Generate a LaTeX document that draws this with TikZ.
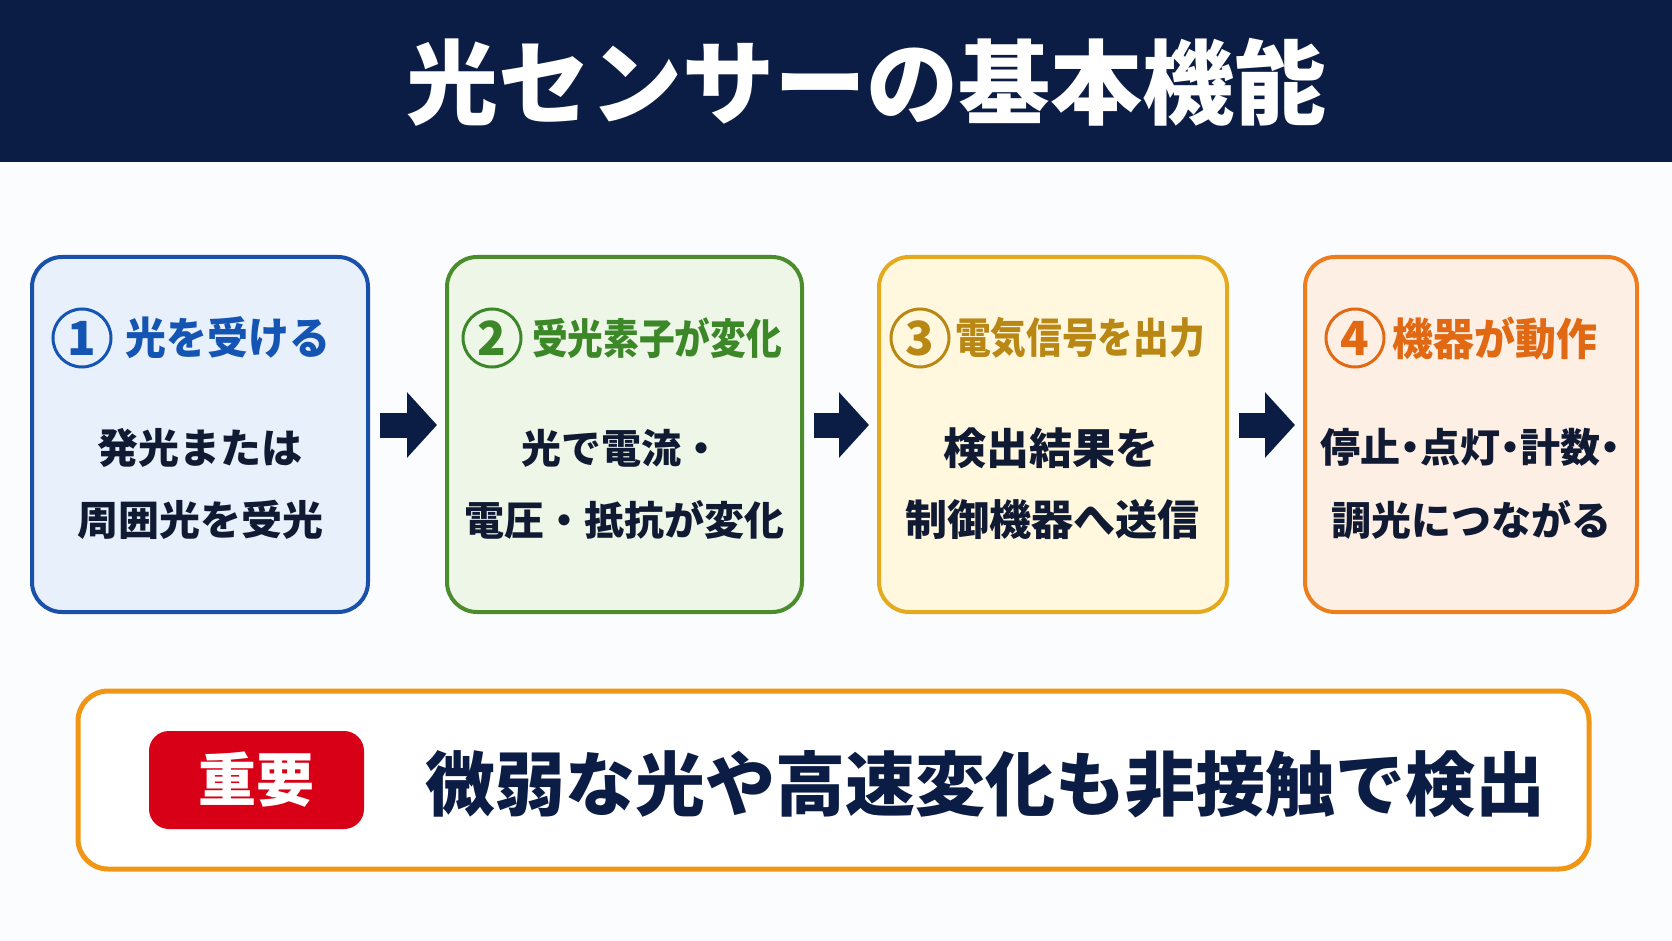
\documentclass[tikz,border=0pt]{standalone}
\usepackage{fontspec}
\usetikzlibrary{arrows.meta}
\newfontfamily\jp{Noto Sans CJK JP Black}
\newfontfamily\jpc{Noto Sans CJK JP Black}[FakeStretch=0.85]
\newfontfamily\jpn{Noto Sans CJK JP Black}[FakeStretch=0.93]
\newfontfamily\jpp{Noto Sans CJK JP Black}[RawFeature=+palt]
\definecolor{pagebg}{RGB}{251,252,254}
\definecolor{navy}{RGB}{12,29,69}
\definecolor{bodyc}{RGB}{17,26,51}
\definecolor{c1b}{RGB}{25,80,170}
\definecolor{c1f}{RGB}{232,240,251}
\definecolor{c1h}{RGB}{20,85,180}
\definecolor{c2b}{RGB}{75,140,45}
\definecolor{c2f}{RGB}{238,246,232}
\definecolor{c2h}{RGB}{60,135,40}
\definecolor{c3b}{RGB}{228,170,30}
\definecolor{c3f}{RGB}{255,247,222}
\definecolor{c3h}{RGB}{185,135,20}
\definecolor{c4b}{RGB}{238,125,30}
\definecolor{c4f}{RGB}{253,239,228}
\definecolor{c4h}{RGB}{225,105,20}
\definecolor{botb}{RGB}{240,150,20}
\definecolor{badgered}{RGB}{215,0,22}
\tikzset{
  stepbox/.style={line width=4pt, rounded corners=30pt, minimum height=355pt, inner sep=0pt},
  numc/.style={circle, line width=3pt, minimum size=58pt, inner sep=0pt, font=\jp\fontsize{47}{47}\selectfont},
  headw/.style={inner sep=0pt, font=\jpn\fontsize{44}{48}\selectfont},
  headn/.style={inner sep=0pt, font=\jpc\fontsize{42}{48}\selectfont},
  bodyt/.style={inner sep=0pt, text=bodyc, font=\jp\fontsize{41}{48}\selectfont},
  flow/.style={line width=25pt, draw=navy, -{Triangle[length=30pt,width=64pt]}, shorten <=10pt, shorten >=8pt},
}
\begin{document}
\begin{tikzpicture}[x=1pt,y=-1pt]
\fill[pagebg] (0,0) rectangle (1672,941);
\useasboundingbox (0,0) rectangle (1672,941);
\fill[navy] (0,0) rectangle (1672,162);
\node[inner sep=0pt, text=white, font=\jp\fontsize{92}{96}\selectfont] (title) at (866,82) {光センサーの基本機能};

% boxes
\node[stepbox, draw=c1b, fill=c1f, minimum width=336pt] (b1) at (200,434.5) {};
\node[stepbox, draw=c2b, fill=c2f, minimum width=355pt] (b2) at (624.5,434.5) {};
\node[stepbox, draw=c3b, fill=c3f, minimum width=348pt] (b3) at (1053,434.5) {};
\node[stepbox, draw=c4b, fill=c4f, minimum width=332pt] (b4) at (1471,434.5) {};

% headings
\node[numc, draw=c1h, text=c1h] (n1) at (82,338) {1};
\node[headw, text=c1h] (h1) at (228,338) {光を受ける};
\node[numc, draw=c2h, text=c2h] (n2) at (492,338) {2};
\node[headn, text=c2h] (h2) at (657,338) {受光素子が変化};
\node[numc, draw=c3h, text=c3h] (n3) at (920,338) {3};
\node[headn, text=c3h] (h3) at (1080,338) {電気信号を出力};
\node[numc, draw=c4h, text=c4h] (n4) at (1355,338) {4};
\node[headw, text=c4h] (h4) at (1495,338) {機器が動作};

% body text
\node[bodyt] (t11) at (200,448) {発光または};
\node[bodyt] (t12) at (200,520) {周囲光を受光};
\node[bodyt, font=\jp\fontsize{40}{48}\selectfont] (t21) at (621,448) {光で電流・};
\node[bodyt, font=\jp\fontsize{40}{48}\selectfont] (t22) at (624.5,520) {電圧・抵抗が変化};
\node[bodyt, font=\jp\fontsize{43}{48}\selectfont] (t31) at (1051,448) {検出結果を};
\node[bodyt, font=\jp\fontsize{42}{48}\selectfont] (t32) at (1052,520) {制御機器へ送信};
\node[bodyt, font=\jpp\fontsize{40}{48}\selectfont] (t41) at (1470,447) {停止・点灯・計数・};
\node[bodyt, font=\jp\fontsize{40}{48}\selectfont] (t42) at (1471,520) {調光につながる};

% arrows
\draw[flow] ([yshift=9.5pt]b1.east) -- ([yshift=9.5pt]b2.west);
\draw[flow] ([yshift=9.5pt]b2.east) -- ([yshift=9.5pt]b3.west);
\draw[flow] ([yshift=9.5pt]b3.east) -- ([yshift=9.5pt]b4.west);

% bottom box
\node[draw=botb, line width=5pt, rounded corners=30pt, fill=white, minimum width=1511pt, minimum height=178pt, inner sep=0pt] (bot) at (833.5,780) {};
\node[fill=badgered, rounded corners=20pt, minimum width=215pt, minimum height=98pt, inner sep=0pt, text=white, font=\jp\fontsize{58}{60}\selectfont] (badge) at (256.5,780) {重要};
\node[inner sep=0pt, text=navy, font=\jp\fontsize{70}{76}\selectfont] (msg) at (985,784) {微弱な光や高速変化も非接触で検出};
\end{tikzpicture}
\end{document}
